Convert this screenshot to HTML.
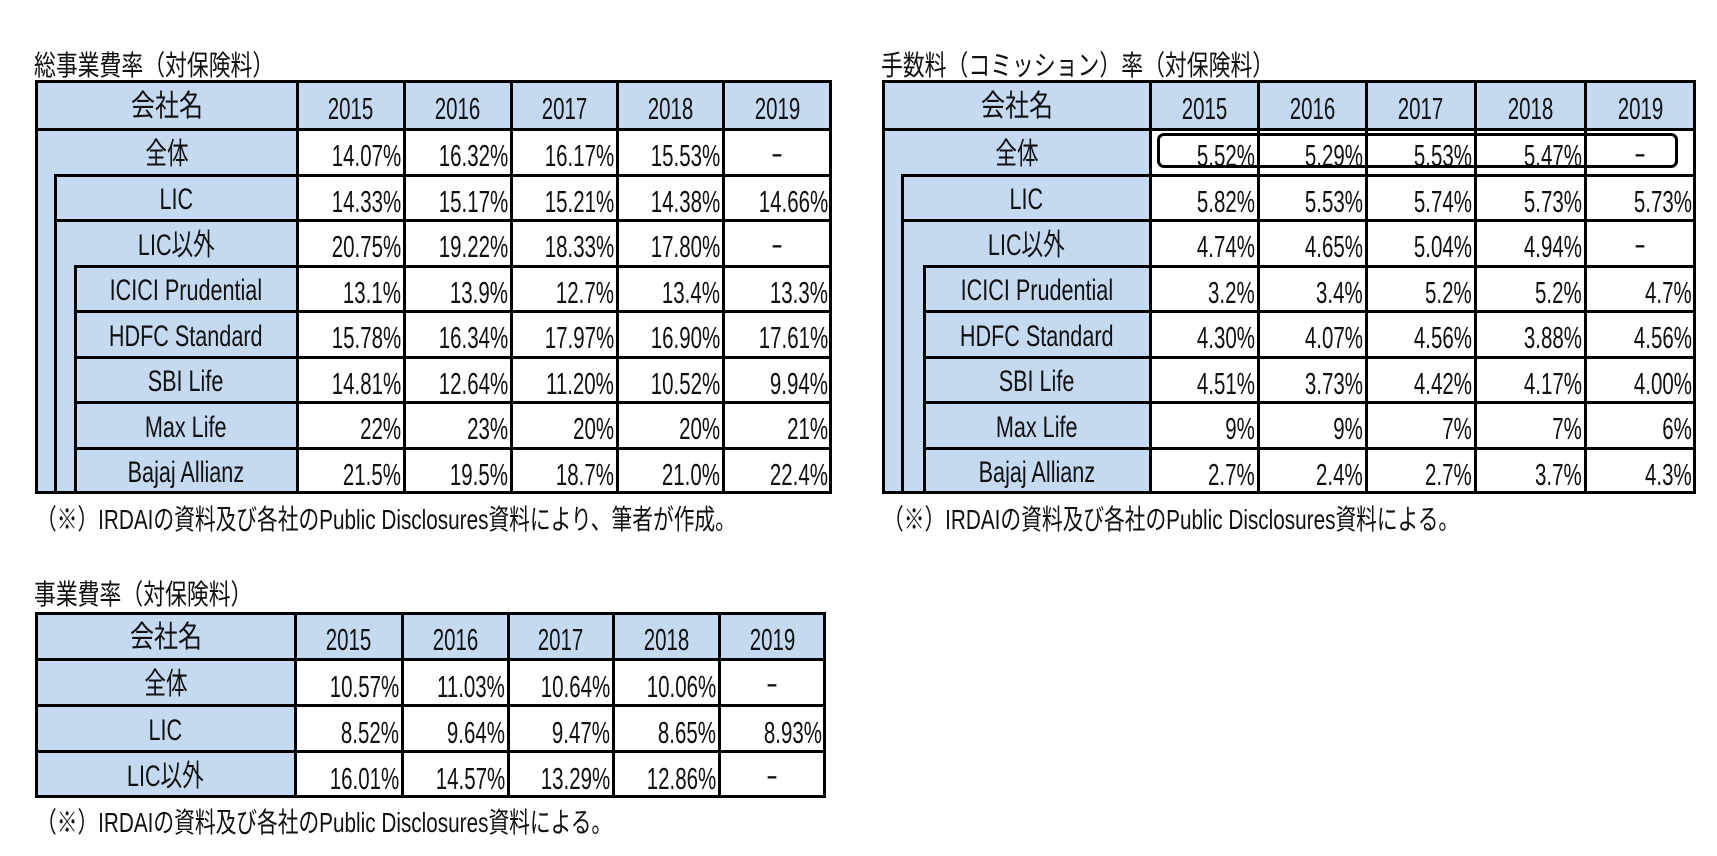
<!DOCTYPE html>
<html><head><meta charset="utf-8">
<style>
body{margin:0;width:1717px;height:856px;background:#fff;position:relative;overflow:hidden;font-family:"Liberation Sans","Noto Sans CJK JP",sans-serif;color:#111}
.a{position:absolute}
.t{position:absolute;font-size:27px;white-space:nowrap;line-height:1}
.t span{display:inline-block;transform:scaleX(0.66)}
.ln{position:absolute;background:#000}
</style></head><body>
<script>
const years=["2015","2016","2017","2018","2019"];
const names1=["全体","LIC","LIC以外","ICICI Prudential","HDFC Standard","SBI Life","Max Life","Bajaj Allianz"];
const vals1=[["14.07%","16.32%","16.17%","15.53%","－"],["14.33%","15.17%","15.21%","14.38%","14.66%"],["20.75%","19.22%","18.33%","17.80%","－"],["13.1%","13.9%","12.7%","13.4%","13.3%"],["15.78%","16.34%","17.97%","16.90%","17.61%"],["14.81%","12.64%","11.20%","10.52%","9.94%"],["22%","23%","20%","20%","21%"],["21.5%","19.5%","18.7%","21.0%","22.4%"]];
const vals2=[["5.52%","5.29%","5.53%","5.47%","－"],["5.82%","5.53%","5.74%","5.73%","5.73%"],["4.74%","4.65%","5.04%","4.94%","－"],["3.2%","3.4%","5.2%","5.2%","4.7%"],["4.30%","4.07%","4.56%","3.88%","4.56%"],["4.51%","3.73%","4.42%","4.17%","4.00%"],["9%","9%","7%","7%","6%"],["2.7%","2.4%","2.7%","3.7%","4.3%"]];
const names3=["全体","LIC","LIC以外"];
const vals3=[["10.57%","11.03%","10.64%","10.06%","－"],["8.52%","9.64%","9.47%","8.65%","8.93%"],["16.01%","14.57%","13.29%","12.86%","－"]];

const B=document.body;
function box(x,y,w,h,bg,name){const d=document.createElement('div');d.className='a';d.style.cssText=`left:${x}px;top:${y}px;width:${w}px;height:${h}px;background:${bg}`;


B.appendChild(d);return d;}
function line(x,y,w,h){const d=document.createElement('div');d.className='ln';d.style.cssText=`left:${x}px;top:${y}px;width:${w}px;height:${h}px`;


B.appendChild(d);}
function text(s,x,y,w,h,align,name,size,sx){const d=document.createElement('div');d.className='t';
d.style.cssText=`left:${x}px;top:${y}px;width:${w}px;height:${h}px;display:flex;align-items:center;justify-content:${align==='r'?'flex-end':align==='l'?'flex-start':'center'};font-size:${size||30}px`;
const sp=document.createElement('span');sp.textContent=s;sp.style.transformOrigin=align==='r'?'right center':align==='l'?'left center':'center';
if(sx)sp.style.transform='scaleX('+sx+')';
d.appendChild(sp);


B.appendChild(d);}

function table(title,titleY,cx,top,headH,rowH,names,vals,indents,note,noteY){
  const L=cx[0],R=cx[cx.length-1],n=names.length,bottom=top+headH+rowH*n;
  text(title,L-2,titleY,700,30,'l','table-title',28,0.78);
  box(L,top,R-L,bottom-top,'#fff','table-body');
  box(L,top,R-L,headH,'#c5d9f1','header-row');
  box(L,top,cx[1]-L,bottom-top,'#c5d9f1','name-column');
  text("会社名",L,top+2,cx[1]-L,headH,'c','header-company',30,0.8);
  years.forEach((y,i)=>text(y,cx[i+1],top+3,cx[i+2]-cx[i+1],headH,'c','header-year-'+y,31));
  line(L-1,top-1,R-L+2,3);line(L-1,bottom-2,R-L+2,3);line(L-1,top-1,3,bottom-top+1);line(R-2,top-1,3,bottom-top+1);
  line(L,top+headH-1,R-L,3);
  for(let i=1;i<cx.length-1;i++)line(cx[i]-1,top,2.5,bottom-top);
  for(let r=0;r<n;r++){
    const y=top+headH+rowH*r;
    const ix=indents[r];
    if(r>0)line(ix,y-1,R-ix,3);
    if(ix>L && (r===0||indents[r-1]!==ix))line(ix-1,y-1,3,bottom-y);
    text(names[r],ix,y+3,cx[1]-ix,rowH,'c','row-label',30,0.72);
    vals[r].forEach((v,i)=>{
      if(v==='－')text('-',cx[i+1],y+2,cx[i+2]-cx[i+1],rowH,'c','cell-value',30,1.2);
      else text(v,cx[i+1],y+4,cx[i+2]-cx[i+1]-3,rowH,'r','cell-value',31);
    });
  }
  text(note,L,noteY,800,30,'l','source-note',28,0.74);
  return {bottom};
}
table("総事業費率（対保険料）",51,[36,297,404,511,617,723,831],81,48,45.5,names1,vals1,[36,55,55,75,75,75,75,75],"（※）IRDAIの資料及び各社のPublic Disclosures資料により、筆者が作成。",505);
table("手数料（コミッション）率（対保険料）",51,[883,1150,1258,1366,1475,1585,1695],81,48,45.5,names1,vals2,[883,902,902,924,924,924,924,924],"（※）IRDAIの資料及び各社のPublic Disclosures資料による。",505);
table("事業費率（対保険料）",580,[36,295,402,508,613,719,825],613,46,46,names3,vals3,[36,36,36],"（※）IRDAIの資料及び各社のPublic Disclosures資料による。",808);
const rb=document.createElement('div');rb.className='a';
rb.style.cssText='left:1157px;top:133px;width:521px;height:35px;border:3px solid #000;border-radius:7px;box-sizing:border-box';


B.appendChild(rb);
</script>
</body></html>
